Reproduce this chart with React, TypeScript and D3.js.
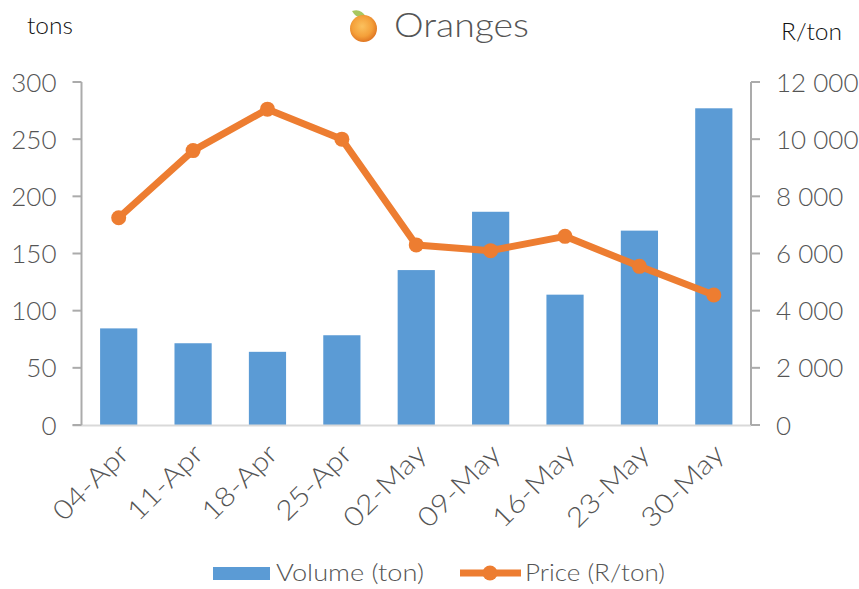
import React from "react";
import * as d3 from "d3";

const categories = ["04-Apr","11-Apr","18-Apr","25-Apr","02-May","09-May","16-May","23-May","30-May"];
const volume = [84.5,71.5,64,78.5,135.5,186.5,114,170,277];
const price = [7250,9600,11050,10000,6300,6100,6600,5550,4550];
const volumeTicks = [0,50,100,150,200,250,300];
const priceTicks = [0,2000,4000,6000,8000,10000,12000];

const W = 859, H = 589;
const left = 81.5, right = 751, top = 82, bottom = 425;
const FONT = "Lato, 'Open Sans', sans-serif";
const GREY = "#555555";
const BLUE = "#5B9BD5";
const ORANGE = "#ED7D31";

export default function App() {
  const x = d3.scaleBand<string>().domain(categories).range([left, right]).paddingInner(0.5).paddingOuter(0.25);
  const yL = d3.scaleLinear().domain([0,300]).range([bottom, top]);
  const yR = d3.scaleLinear().domain([0,12000]).range([bottom, top]);
  const cx = (c: string) => x(c)! + x.bandwidth()/2;
  const line = d3.line<number>().x((_, i) => cx(categories[i])).y(d => yR(d));
  const fmt = (v: number) => d3.format(",")(v).replace(/,/g, "\u00a0");
  const wide = { lengthAdjust: "spacingAndGlyphs" as const };
  return (
    <svg width={W} height={H} viewBox={`0 0 ${W} ${H}`} style={{position:"fixed",left:0,top:0,background:"#fff",fontFamily:FONT,fontWeight:300}}>
      <defs>
        <radialGradient id="org" cx="0.45" cy="0.42" r="0.62">
          <stop offset="0" stopColor="#FBC15E"/>
          <stop offset="0.6" stopColor="#F4A03A"/>
          <stop offset="1" stopColor="#DD6F1E"/>
        </radialGradient>
      </defs>
      {/* title */}
      <path d="M352 11 Q361 8 366 17 Q357 20 352 11Z" fill="#A9C760"/>
      <circle cx="363.5" cy="28.5" r="13.5" fill="url(#org)"/>
      <text x="394" y="37" fontSize={33} fill={GREY} textLength={135} {...wide}>Oranges</text>
      <text x="27" y="34" fontSize={23} fill="#111" textLength={46} {...wide}>tons</text>
      <text x="781" y="40" fontSize={23} fill="#111" textLength={61} {...wide}>R/ton</text>

      {/* bars */}
      {categories.map((c,i)=>(
        <rect key={c} x={x(c)} y={yL(volume[i])} width={x.bandwidth()} height={bottom-yL(volume[i])} fill={BLUE}/>
      ))}

      {/* axes */}
      <line x1={left-9} x2={right} y1={bottom+0.5} y2={bottom+0.5} stroke="#D9D9D9" strokeWidth={2}/>
      <line x1={left} x2={left} y1={top} y2={bottom} stroke="#ABABAB" strokeWidth={2}/>
      <line x1={right} x2={right} y1={top} y2={bottom} stroke="#ABABAB" strokeWidth={2}/>
      {volumeTicks.map(t=>(
        <g key={t}>
          <line x1={left-9} x2={left} y1={yL(t)} y2={yL(t)} stroke="#ABABAB" strokeWidth={2}/>
          <text x={left-25} y={yL(t)+9.5} textAnchor="end" fontSize={26} fill={GREY}>{t}</text>
        </g>
      ))}
      {priceTicks.map(t=>(
        <g key={t}>
          <line x1={right} x2={right+9} y1={yR(t)} y2={yR(t)} stroke="#ABABAB" strokeWidth={2}/>
          <text x={right+25} y={yR(t)+9.5} fontSize={26} fill={GREY}>{fmt(t)}</text>
        </g>
      ))}
      {categories.map(c=>(
        <text key={c} transform={`translate(${cx(c)+7},${bottom+26}) rotate(-45)`} textAnchor="end" dominantBaseline="middle" fontSize={27} fill={GREY} textLength={c.endsWith("May") ? 104 : 94} {...wide}>{c}</text>
      ))}

      {/* line */}
      <path d={line(price)!} fill="none" stroke={ORANGE} strokeWidth={7} strokeLinejoin="round" strokeLinecap="round"/>
      {categories.map((c,i)=>(
        <circle key={c} cx={cx(c)} cy={yR(price[i])} r={7.5} fill={ORANGE}/>
      ))}

      {/* legend */}
      <rect x={213} y={567} width={57} height={13} fill={BLUE}/>
      <text x={276} y={581} fontSize={24} fill={GREY} textLength={148} {...wide}>Volume (ton)</text>
      <line x1={460} x2={521} y1={573} y2={573} stroke={ORANGE} strokeWidth={7}/>
      <circle cx={490} cy={573} r={7.5} fill={ORANGE}/>
      <text x={525} y={581} fontSize={24} fill={GREY} textLength={140} {...wide}>Price (R/ton)</text>
    </svg>
  );
}
